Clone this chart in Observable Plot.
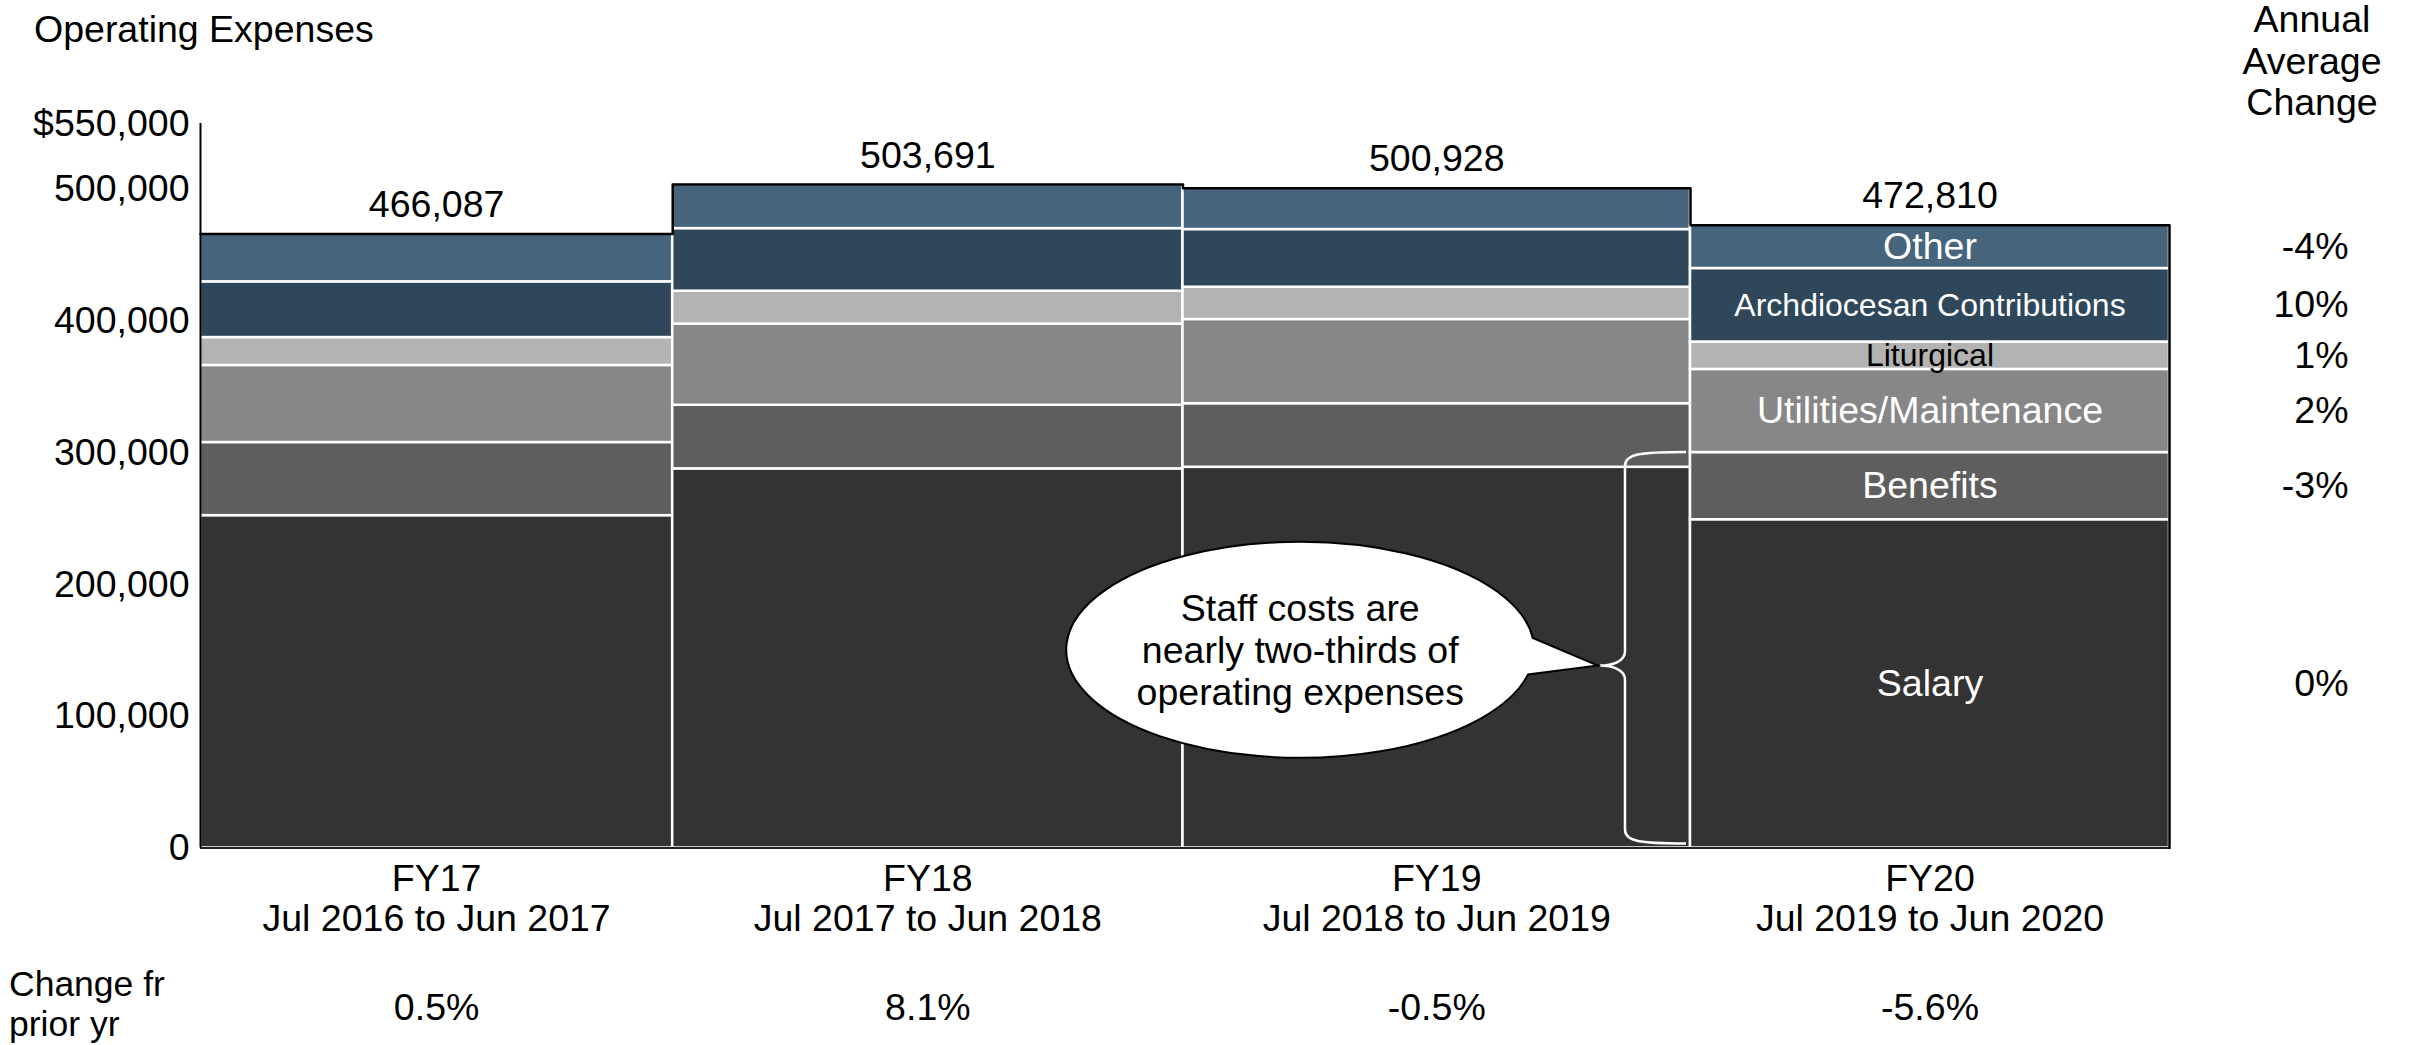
<!DOCTYPE html>
<html><head><meta charset="utf-8">
<script src="https://cdn.jsdelivr.net/npm/d3@7"></script>
<script src="https://cdn.jsdelivr.net/npm/@observablehq/plot@0.6"></script>
<style>
html,body{margin:0;padding:0;background:#fff;overflow:hidden;}
#wrap{position:relative;width:2412px;height:1045px;font-family:"Liberation Sans",Arial,Helvetica,sans-serif;}
.t{position:absolute;font-size:37.5px;color:#000;white-space:nowrap;}
</style></head><body><div id="wrap"></div>
<script>
// ---- data ----
const years = ["FY17", "FY18", "FY19", "FY20"];
const periods = ["Jul 2016 to Jun 2017", "Jul 2017 to Jun 2018", "Jul 2018 to Jun 2019", "Jul 2019 to Jun 2020"];
const totals = [466087, 503691, 500928, 472810];
const priorYearChange = ["0.5%", "8.1%", "-0.5%", "-5.6%"];
const categories = ["Salary", "Benefits", "Utilities/Maintenance", "Liturgical", "Archdiocesan Contributions", "Other"];
const salary       = [252300, 287800, 289000, 249200];
const benefits     = [55500, 48300, 48300, 51000];
const utilities    = [58500, 61600, 63900, 63100];
const liturgical   = [21200, 25000, 24500, 20800];
const archdiocesan = [42300, 47500, 43800, 55800];
const other        = [36287, 33491, 31428, 32910];
const annualAvgChange = ["0%", "-3%", "2%", "1%", "10%", "-4%"];
const yTicks = [0, 100000, 200000, 300000, 400000, 500000, 550000];
const colors = ["#333333", "#5e5e5e", "#878787", "#b3b3b3", "#2e475b", "#47647d"];

// ---- build tables ----
const series = [salary, benefits, utilities, liturgical, archdiocesan, other];
const grand = d3.sum(totals);
const starts = totals.map((_, i) => d3.sum(totals.slice(0, i)));
const yearRows = years.map((y, i) => ({year: y, period: periods[i], total: totals[i], change: priorYearChange[i],
  x1: starts[i], x2: starts[i] + totals[i], mid: starts[i] + totals[i] / 2}));
const rows = [];
years.forEach((yr, i) => {
  let acc = 0;
  categories.forEach((c, j) => {
    const v = series[j][i];
    rows.push({year: yr, category: c, x1: starts[i], x2: starts[i] + totals[i], y1: acc, y2: acc + v,
      xm: starts[i] + totals[i] / 2, ym: acc + v / 2, annual: annualAvgChange[j]});
    acc += v;
  });
});
const last = rows.filter(d => d.year === "FY20");
const topPts = [];
yearRows.forEach(d => { topPts.push({x: d.x1, y: d.total}); topPts.push({x: d.x2, y: d.total}); });
topPts.push({x: grand, y: 0});

const W = 2412, H = 1045;
const FS = 37.5;
const chart = Plot.plot({
  width: W, height: H,
  marginLeft: 200, marginRight: 243, marginTop: 123, marginBottom: 197.5,
  style: {fontFamily: "'Liberation Sans', Arial, Helvetica, sans-serif", fontSize: FS + "px", color: "#000", background: "#fff", overflow: "visible"},
  x: {domain: [0, grand], axis: null},
  y: {domain: [0, 550000], ticks: yTicks, tickSize: 0, tickPadding: 11, label: null,
      tickFormat: d => d === 550000 ? "$550,000" : d3.format(",")(d)},
  color: {domain: categories, range: colors},
  marks: [
    Plot.rect(rows, {x1: "x1", x2: "x2", y1: "y1", y2: "y2", fill: "category", stroke: "#fff", strokeWidth: 2.5}),
    Plot.ruleY([0], {stroke: "#222", strokeWidth: 2}),
    Plot.line(topPts, {x: "x", y: "y", stroke: "#000", strokeWidth: 2.5, curve: "linear"}),
    Plot.ruleX([0], {y1: 0, y2: 550000, stroke: "#000", strokeWidth: 2}),
    Plot.text(yearRows, {x: "mid", y: "total", text: d => d3.format(",")(d.total), dy: -29}),
    Plot.text(yearRows, {x: "mid", y: () => 0, text: "year", dy: 31}),
    Plot.text(yearRows, {x: "mid", y: () => 0, text: "period", dy: 71}),
    Plot.text(yearRows, {x: "mid", y: () => 0, text: "change", dy: 160}),
    Plot.text(last.filter(d => d.category !== "Liturgical" && d.category !== "Archdiocesan Contributions"),
      {x: "xm", y: "ym", text: "category", fill: "#fff"}),
    Plot.text(last.filter(d => d.category === "Archdiocesan Contributions"),
      {x: "xm", y: "ym", text: "category", fill: "#fff", fontSize: 32}),
    Plot.text(last.filter(d => d.category === "Liturgical"),
      {x: "xm", y: "ym", text: "category", fill: "#000", fontSize: 32}),
    Plot.text(last, {x: () => grand, y: "ym", text: "annual", dx: 179, textAnchor: "end"})
  ]
});

const wrap = document.getElementById("wrap");
wrap.appendChild(chart);
chart.style.position = "absolute"; chart.style.left = "0"; chart.style.top = "0";

// ---- brace & callout, positioned through the plot's scales ----
const sx = chart.scale("x"), sy = chart.scale("y");
const svg = d3.select(chart);
const staff = salary[3] + benefits[3];
const x0 = sx.apply(starts[3]);
const xr = x0 - 4, xv = x0 - 65, xt = x0 - 90;
const yTop = sy.apply(staff), yBot = sy.apply(0) - 4, ym = sy.apply(staff * 0.46);
const brace = `M${xr},${yTop} C${xv + 14},${yTop} ${xv},${yTop + 2} ${xv},${yTop + 14}
  L${xv},${ym - 14} C${xv},${ym - 4} ${xt + 12},${ym} ${xt},${ym}
  C${xt + 12},${ym} ${xv},${ym + 4} ${xv},${ym + 14}
  L${xv},${yBot - 14} C${xv},${yBot - 2} ${xv + 14},${yBot} ${xr},${yBot}`;
svg.append("path").attr("d", brace).attr("fill", "none").attr("stroke", "#fff").attr("stroke-width", 2.5);

const cx = sx.apply(starts[2] + totals[2] * 0.232), cy = sy.apply(staff / 2);
const rx = 234, ry = 108;
const pt = t => [cx + rx * Math.cos(t), cy + ry * Math.sin(t)];
const p1 = pt(-0.11), p2 = pt(0.23);
const tip = [xt - 2, ym];
svg.append("path")
  .attr("d", `M${tip[0]},${tip[1]} L${p1[0]},${p1[1]} A${rx},${ry} 0 1 0 ${p2[0]},${p2[1]} Z`)
  .attr("fill", "#fff").attr("stroke", "#000").attr("stroke-width", 2);
const lines = ["Staff costs are", "nearly two-thirds of", "operating expenses"];
lines.forEach((s, i) => {
  svg.append("text").attr("x", cx).attr("y", cy + (i - 1) * 42).attr("dy", "0.35em")
    .attr("text-anchor", "middle").attr("font-size", FS).attr("fill", "#000").text(s);
});

// ---- titles around the plot ----
function addText(html, css) {
  const d = document.createElement("div");
  d.className = "t"; d.innerHTML = html; Object.assign(d.style, css);
  wrap.appendChild(d);
}
addText("Operating Expenses", {left: "34px", top: "9px", lineHeight: "40px"});
addText("Annual<br>Average<br>Change", {left: "2212px", width: "200px", top: "-1px", lineHeight: "41.5px", textAlign: "center"});
addText("Change fr", {left: "9px", top: "964px", lineHeight: "40px", fontSize: "35.5px"});
addText("prior yr", {left: "9px", top: "1004px", lineHeight: "40px", fontSize: "35.5px"});
</script></body></html>
